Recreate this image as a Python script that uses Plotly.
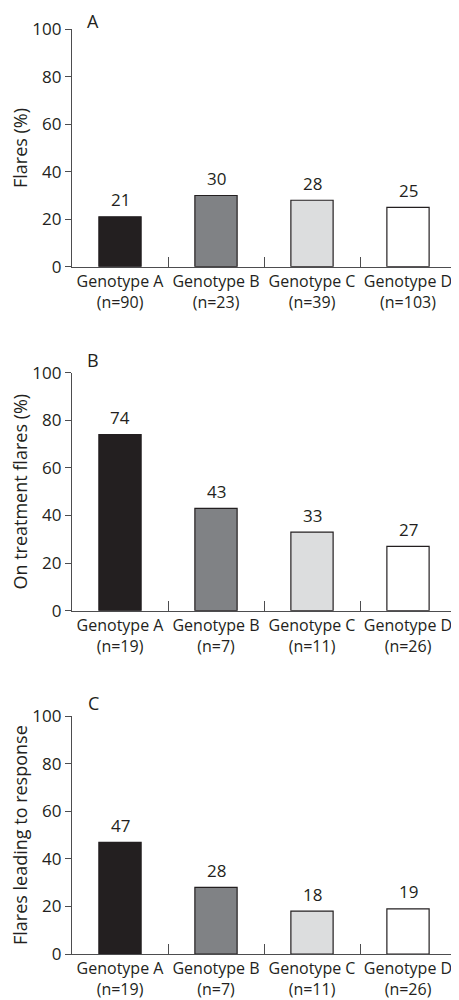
import plotly.graph_objects as go

categories = ["Genotype A", "Genotype B", "Genotype C", "Genotype D"]
n_a = [90, 23, 39, 103]
n_bc = [19, 7, 11, 26]
flares = [21, 30, 28, 25]
on_treatment = [74, 43, 33, 27]
leading_response = [47, 28, 18, 19]
y_ticks = [0, 20, 40, 60, 80, 100]
bar_colors = ["#231f20", "#808285", "#dcddde", "#ffffff"]

panels = [
    ("A", "Flares (%)", flares, n_a),
    ("B", "On treatment flares (%)", on_treatment, n_bc),
    ("C", "Flares leading to response", leading_response, n_bc),
]

# page body has an 8px default margin: figure sits at (8, 8)
OFF = 8
W, H = 459 - OFF, 1000 - OFF
x0, x1 = 72 - OFF, 456 - OFF
y_tops = [29.3 - OFF, 372.7 - OFF, 716.3 - OFF]
y_bots = [266.7 - OFF, 610.7 - OFF, 954.0 - OFF]

FONT = "'Open Sans', 'Noto Sans', sans-serif"
TXT = "#231f20"
AX = "#4d4d4f"

fig = go.Figure()
layout = dict(
    width=W, height=H,
    margin=dict(l=0, r=0, t=0, b=0, autoexpand=False),
    paper_bgcolor="white", plot_bgcolor="white",
    showlegend=False,
    font=dict(family=FONT, color=TXT, size=16),
)
annotations = []
for i, (letter, title, vals, ns) in enumerate(panels):
    k = "" if i == 0 else str(i + 1)
    xa, ya = "x" + k, "y" + k
    labels = [f"{c}<br>(n={n})" for c, n in zip(categories, ns)]
    fig.add_trace(go.Bar(
        x=labels, y=vals, xaxis=xa, yaxis=ya,
        marker=dict(color=bar_colors, line=dict(color="#231f20", width=1.2)),
        width=0.44,
    ))
    dom_y = [1 - y_bots[i] / H, 1 - y_tops[i] / H]
    layout["xaxis" + k] = dict(
        domain=[x0 / W, x1 / W], anchor=ya,
        type="category", showline=True, linecolor=AX, linewidth=1.3,
        ticks="inside", tickson="boundaries", ticklen=10, tickcolor=AX, tickwidth=1.3,
        tickangle=0,
        tickfont=dict(size=16, family=FONT, color=TXT),
        showgrid=False, zeroline=False, fixedrange=True,
    )
    layout["yaxis" + k] = dict(
        domain=dom_y, anchor=xa, range=[0, 100],
        tickvals=y_ticks, ticks="outside", ticklen=6, tickcolor=AX, tickwidth=1.3,
        showline=True, linecolor=AX, linewidth=1.3,
        tickfont=dict(size=17, family=FONT, color=TXT),
        title=dict(text=title, font=dict(size=18, family=FONT, color=TXT), standoff=9),
        showgrid=False, zeroline=False, fixedrange=True,
    )
    for lab, v in zip(labels, vals):
        annotations.append(dict(
            x=lab, y=v, xref=xa, yref=ya, text=str(v), showarrow=False,
            yanchor="middle", yshift=17, font=dict(size=17, family=FONT, color=TXT),
        ))
    letter_center = max(y_tops[i] - 13, 13)
    annotations.append(dict(
        x=(93 - OFF) / W, y=1 - letter_center / H, xref="paper", yref="paper",
        text=letter, showarrow=False, xanchor="center", yanchor="middle",
        font=dict(size=18, family=FONT, color=TXT),
    ))

layout["annotations"] = annotations
fig.update_layout(**layout)
fig.write_html("out.html")
